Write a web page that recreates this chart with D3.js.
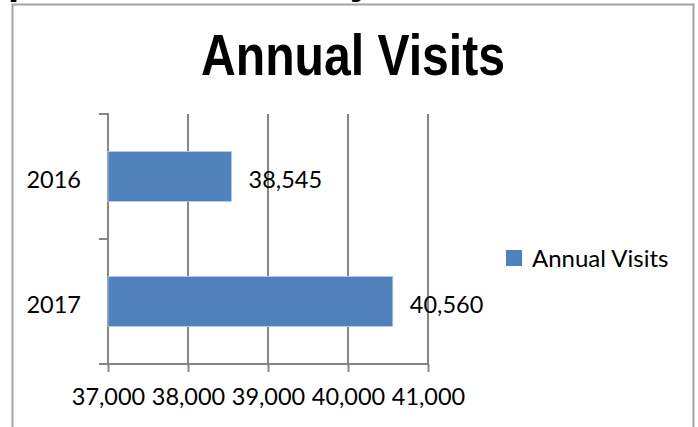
<!DOCTYPE html>
<html>
<head>
<meta charset="utf-8">
<script src="https://cdn.jsdelivr.net/npm/d3@7"></script>
<style>
  body { margin: 0; background: #fff; }
  svg { display: block; }
</style>
</head>
<body>
<svg id="chart" width="698" height="427"></svg>
<script>
// chart data
var categories = ["2016", "2017"];
var visits = [38545, 40560];
var xTicks = [37000, 38000, 39000, 40000, 41000];
var seriesName = "Annual Visits";

var svg = d3.select("#chart");
var bodyFont = "Lato, 'Open Sans', sans-serif";

// clipped line of document text above the chart box
svg.append("text").attr("x", 8).attr("y", -6)
  .attr("font-family", "'Liberation Sans', Arial").attr("font-weight", "bold")
  .attr("font-size", 40).text("p");
svg.append("text").attr("x", 350).attr("y", -6)
  .attr("font-family", "'Liberation Sans', Arial").attr("font-weight", "bold")
  .attr("font-size", 40).text("y");

// chart box (bottom edge runs off the picture)
svg.append("rect")
  .attr("x", 12.5).attr("y", 4.5).attr("width", 681).attr("height", 440)
  .attr("fill", "#fff").attr("stroke", "#a3a3a3").attr("stroke-width", 2);

// narrow bold title, squeezed horizontally
svg.append("text")
  .attr("transform", "translate(353,75) scale(0.83,1)")
  .attr("text-anchor", "middle")
  .attr("font-family", "'Liberation Sans', Arial")
  .attr("font-weight", "bold").attr("font-size", 58)
  .text(seriesName);

var x = d3.scaleLinear().domain([37000, 41000]).range([108, 428]);
var y = d3.scaleBand().domain(categories).range([114, 364])
  .paddingInner(0.6).paddingOuter(0.3);

var axisColor = "#868686";

// gridlines
svg.append("g").selectAll("line").data(xTicks).join("line")
  .attr("x1", function(d) { return x(d); }).attr("x2", function(d) { return x(d); })
  .attr("y1", 114).attr("y2", 364)
  .attr("stroke", axisColor).attr("stroke-width", 2);

// x axis
var xAxis = svg.append("g").attr("transform", "translate(0,364)")
  .call(d3.axisBottom(x).tickValues(xTicks).tickSize(8).tickPadding(16)
    .tickFormat(d3.format(",")));
xAxis.select(".domain").remove();
xAxis.selectAll(".tick line").attr("stroke", axisColor).attr("stroke-width", 2);
xAxis.selectAll(".tick text").attr("font-family", bodyFont).attr("font-size", 23.5)
  .attr("fill", "#000");
svg.append("line").attr("x1", 99).attr("x2", 428).attr("y1", 364).attr("y2", 364)
  .attr("stroke", axisColor).attr("stroke-width", 2);

// category axis, ticks on band edges
var edges = [114, 114 + y.step(), 364];
svg.append("line").attr("x1", 108).attr("x2", 108).attr("y1", 113).attr("y2", 365)
  .attr("stroke", axisColor).attr("stroke-width", 2);
svg.append("g").selectAll("line").data(edges).join("line")
  .attr("x1", 99).attr("x2", 108)
  .attr("y1", function(d) { return d; }).attr("y2", function(d) { return d; })
  .attr("stroke", axisColor).attr("stroke-width", 2);
svg.append("g").selectAll("text").data(categories).join("text")
  .attr("x", 81)
  .attr("y", function(d) { return y(d) + y.bandwidth() / 2 + 11; })
  .attr("text-anchor", "end")
  .attr("font-family", bodyFont).attr("font-size", 23.5)
  .text(function(d) { return d; });

// bars
svg.append("g").selectAll("rect").data(visits).join("rect")
  .attr("x", x(37000))
  .attr("y", function(d, i) { return y(categories[i]); })
  .attr("width", function(d) { return x(d) - x(37000); })
  .attr("height", y.bandwidth())
  .attr("fill", "#4f81bd").attr("stroke", "#b9cde5").attr("stroke-width", 0.8);

// data labels
svg.append("g").selectAll("text").data(visits).join("text")
  .attr("x", function(d) { return x(d) + 17; })
  .attr("y", function(d, i) { return y(categories[i]) + y.bandwidth() / 2 + 11; })
  .attr("font-family", bodyFont).attr("font-size", 23.5)
  .text(d3.format(","));

// legend
var legend = svg.append("g").attr("transform", "translate(506,250)");
legend.append("rect").attr("width", 16).attr("height", 16).attr("fill", "#4f81bd");
legend.append("text").attr("x", 26).attr("y", 17)
  .attr("font-family", bodyFont).attr("font-size", 24)
  .text(seriesName);
</script>
</body>
</html>
